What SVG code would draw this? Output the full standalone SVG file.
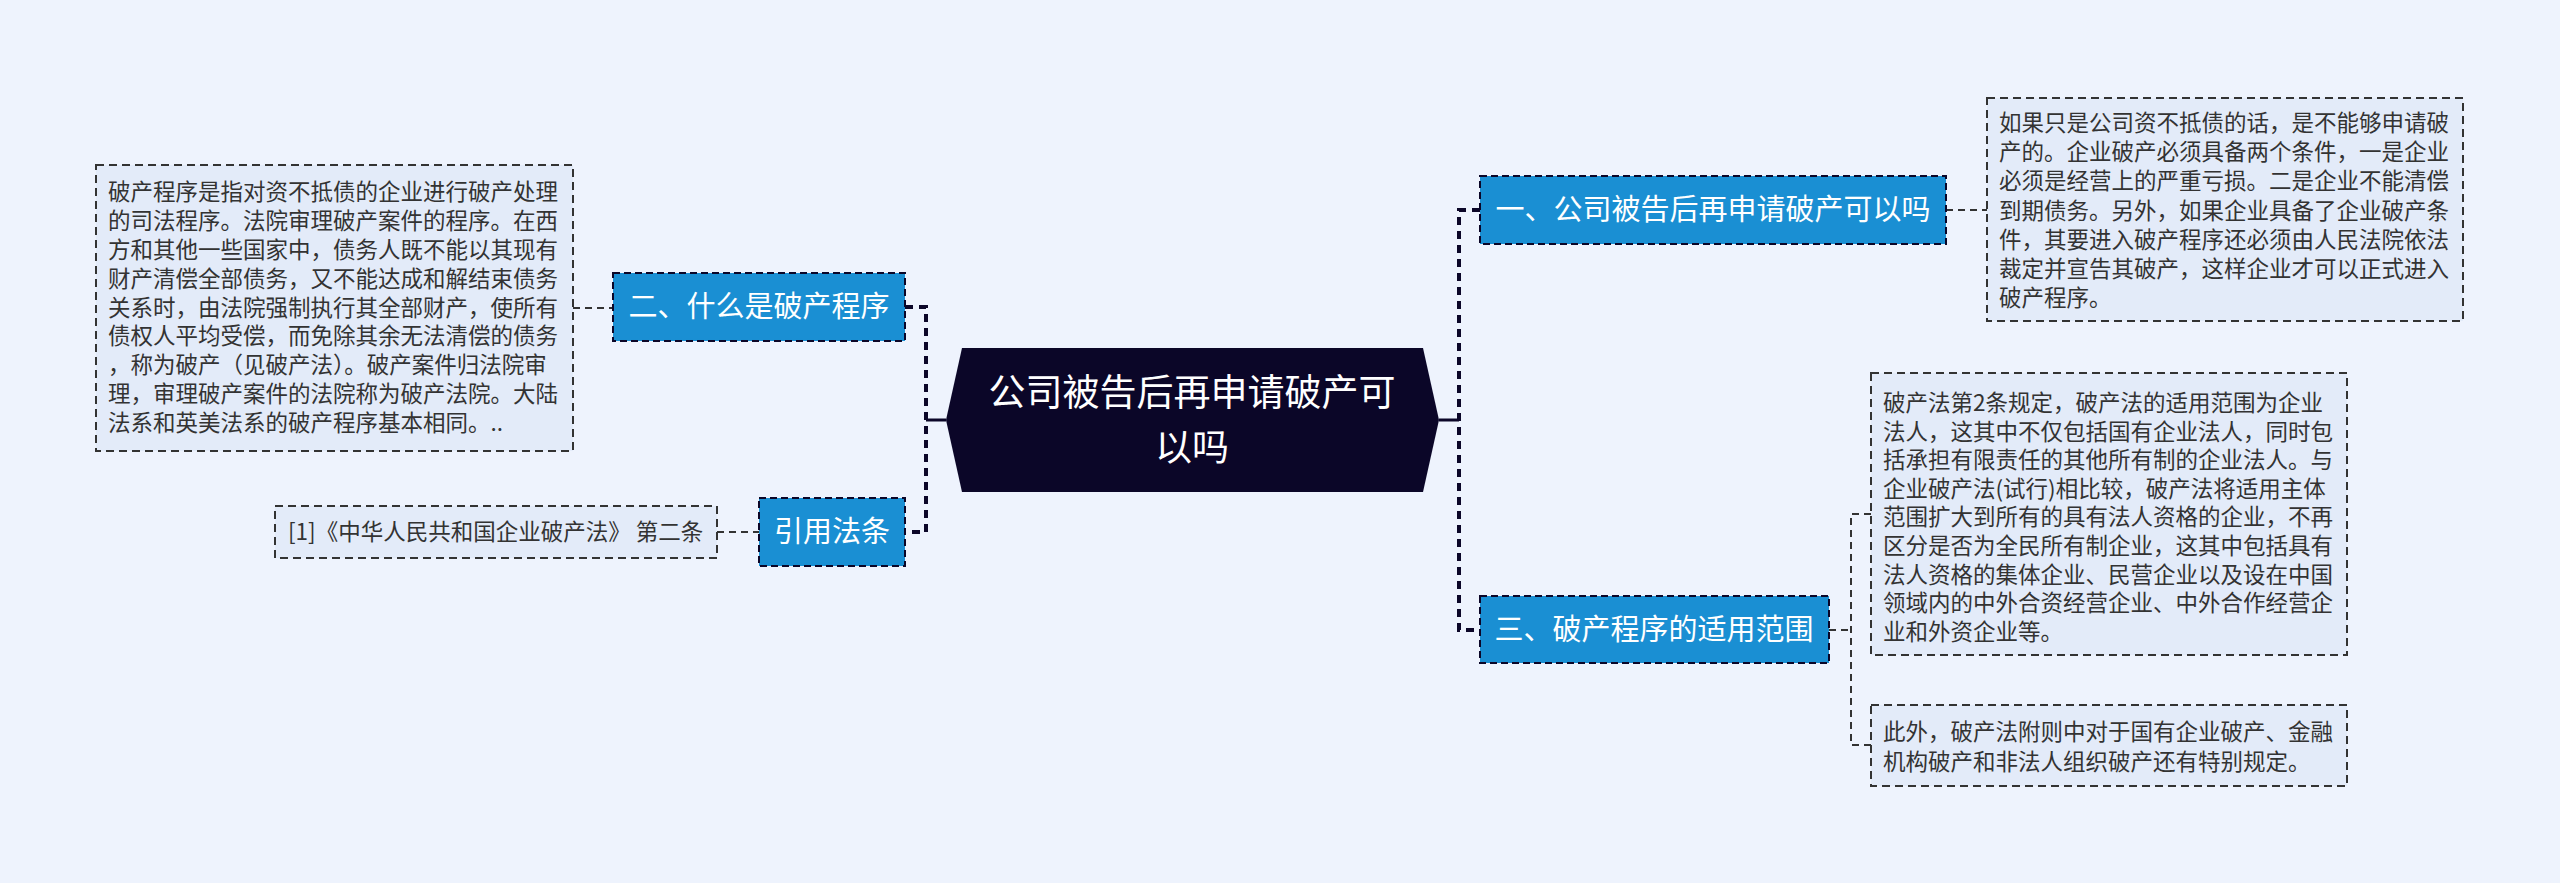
<svg xmlns="http://www.w3.org/2000/svg" width="2560" height="883" viewBox="0 0 2560 883">
<style>
.bg{fill:#EEF3FD}
.topic{fill:#1A8FD3;stroke:#0B0628;stroke-width:2;stroke-dasharray:7 4}
.topic-t{fill:#FFFFFF;font-family:"Noto Sans CJK SC","Noto Sans",sans-serif;font-size:29px;text-anchor:middle}
.note{fill:#E3EBF9;stroke:#333333;stroke-width:2;stroke-dasharray:8 5}
.note-t{fill:#333333;font-family:"Noto Sans CJK SC","Noto Sans",sans-serif;font-size:22.5px}
.root{fill:#0B0628}
.root-t{fill:#FFFFFF;font-family:"Noto Sans CJK SC","Noto Sans",sans-serif;font-size:37px;text-anchor:middle}
.main{fill:none;stroke:#0B0628;stroke-width:4;stroke-dasharray:8 6}
.solid{fill:none;stroke:#0B0628;stroke-width:3}
.sub{fill:none;stroke:#333333;stroke-width:2;stroke-dasharray:7 5}
</style>
<rect class="bg" x="0" y="0" width="2560" height="883"/>
<g id="connectors">
<path class="solid" d="M946,420 H926"/>
<path class="main" d="M905,307 H926 V532 H905"/>
<path class="solid" d="M1439,420 H1459"/>
<path class="main" d="M1480,210 H1459 V630 H1480"/>
<path class="sub" d="M573,308 H613"/>
<path class="sub" d="M717,532 H759"/>
<path class="sub" d="M1946,210 H1987"/>
<path class="sub" d="M1829,630 H1851"/>
<path class="sub" d="M1871,514 H1851 V745 H1871"/>
</g>
<g id="root">
<polygon class="root" points="962,348 1423,348 1439,420 1423,492 962,492 946,420"/>
<text class="root-t" x="1192" y="406">公司被告后再申请破产可</text>
<text class="root-t" x="1192" y="461">以吗</text>
</g>
<g id="topic2">
<rect class="topic" x="613" y="273" width="292" height="68"/>
<text class="topic-t" x="759" y="317">二、什么是破产程序</text>
</g>
<g id="note2">
<rect class="note" x="96" y="165" width="477" height="286"/>
<text class="note-t" x="108" y="200">破产程序是指对资不抵债的企业进行破产处理</text>
<text class="note-t" x="108" y="229">的司法程序。法院审理破产案件的程序。在西</text>
<text class="note-t" x="108" y="258">方和其他一些国家中，债务人既不能以其现有</text>
<text class="note-t" x="108" y="287">财产清偿全部债务，又不能达成和解结束债务</text>
<text class="note-t" x="108" y="316">关系时，由法院强制执行其全部财产，使所有</text>
<text class="note-t" x="108" y="344">债权人平均受偿，而免除其余无法清偿的债务</text>
<text class="note-t" x="108" y="373">，称为破产（见破产法）。破产案件归法院审</text>
<text class="note-t" x="108" y="402">理，审理破产案件的法院称为破产法院。大陆</text>
<text class="note-t" x="108" y="431">法系和英美法系的破产程序基本相同。..</text>
</g>
<g id="topic-ref">
<rect class="topic" x="759" y="498" width="146" height="68"/>
<text class="topic-t" x="832" y="542">引用法条</text>
</g>
<g id="note-ref">
<rect class="note" x="275" y="506" width="442" height="52"/>
<text class="note-t" x="288" y="540">[1]《中华人民共和国企业破产法》 第二条</text>
</g>
<g id="topic1">
<rect class="topic" x="1480" y="176" width="466" height="68"/>
<text class="topic-t" x="1713" y="220">一、公司被告后再申请破产可以吗</text>
</g>
<g id="note1">
<rect class="note" x="1987" y="98" width="476" height="223"/>
<text class="note-t" x="1999" y="131">如果只是公司资不抵债的话，是不能够申请破</text>
<text class="note-t" x="1999" y="160">产的。企业破产必须具备两个条件，一是企业</text>
<text class="note-t" x="1999" y="189">必须是经营上的严重亏损。二是企业不能清偿</text>
<text class="note-t" x="1999" y="219">到期债务。另外，如果企业具备了企业破产条</text>
<text class="note-t" x="1999" y="248">件，其要进入破产程序还必须由人民法院依法</text>
<text class="note-t" x="1999" y="277">裁定并宣告其破产，这样企业才可以正式进入</text>
<text class="note-t" x="1999" y="306">破产程序。</text>
</g>
<g id="topic3">
<rect class="topic" x="1480" y="596" width="349" height="67"/>
<text class="topic-t" x="1654" y="640">三、破产程序的适用范围</text>
</g>
<g id="note3a">
<rect class="note" x="1871" y="373" width="476" height="282"/>
<text class="note-t" x="1883" y="411">破产法第2条规定，破产法的适用范围为企业</text>
<text class="note-t" x="1883" y="440">法人，这其中不仅包括国有企业法人，同时包</text>
<text class="note-t" x="1883" y="468">括承担有限责任的其他所有制的企业法人。与</text>
<text class="note-t" x="1883" y="497">企业破产法(试行)相比较，破产法将适用主体</text>
<text class="note-t" x="1883" y="525">范围扩大到所有的具有法人资格的企业，不再</text>
<text class="note-t" x="1883" y="554">区分是否为全民所有制企业，这其中包括具有</text>
<text class="note-t" x="1883" y="583">法人资格的集体企业、民营企业以及设在中国</text>
<text class="note-t" x="1883" y="611">领域内的中外合资经营企业、中外合作经营企</text>
<text class="note-t" x="1883" y="640">业和外资企业等。</text>
</g>
<g id="note3b">
<rect class="note" x="1871" y="705" width="476" height="81"/>
<text class="note-t" x="1883" y="740">此外，破产法附则中对于国有企业破产、金融</text>
<text class="note-t" x="1883" y="770">机构破产和非法人组织破产还有特别规定。</text>
</g>
</svg>
